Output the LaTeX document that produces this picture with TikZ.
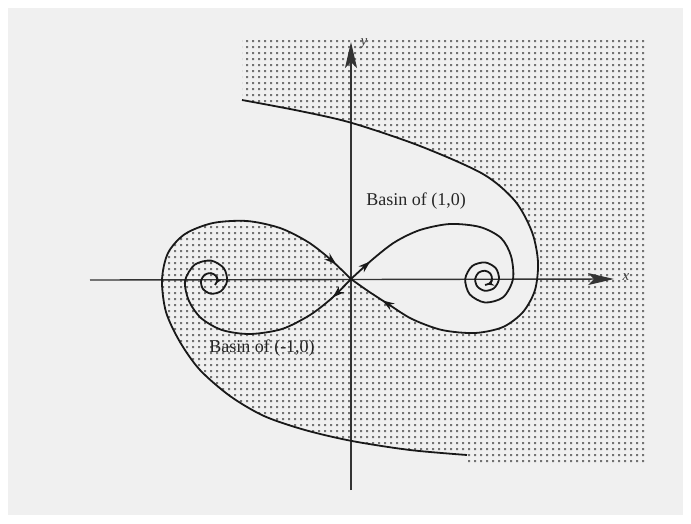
\documentclass[tikz,border=0pt]{standalone}
\usepackage{fontspec}
\setmainfont{Liberation Serif}
\usetikzlibrary{arrows.meta,decorations.markings}
\begin{document}
\begin{tikzpicture}[x=1pt,y=-1pt,
  curve/.style={line width=1.8pt, black!90, line join=round},
  axisline/.style={line width=1.4pt, black!80, -{Stealth[length=26pt,width=12pt,inset=6pt]}},
  fwdmark/.style={postaction={decorate},decoration={markings, mark=at position #1 with {\arrow{Stealth[length=12pt,width=8pt]}}}},
  revmark/.style={postaction={decorate},decoration={markings, mark=at position #1 with {\arrow{Stealth[length=12pt,width=8pt,reversed]}}}},
  spiralmarks/.style={postaction={decorate},decoration={markings,
     mark=at position 26pt with {\arrow{Stealth[length=12pt,width=8pt]}},
     mark=at position 0.995 with {\arrow{Stealth[length=7pt,width=6pt]}}}},
  lbl/.style={font=\fontsize{18}{21}\selectfont, inner sep=0pt, text=black!85},
  axlbl/.style={font=\fontsize{15}{18}\selectfont\itshape, inner sep=0pt, text=black!75},
  dotc/.style={fill=black!55},
]
\useasboundingbox (0,0) rectangle (691,523);
\fill[white] (0,0) rectangle (691,523);
\fill[black!6] (8,8) rectangle (683,515);

% shaded basin of (-1,0)
\begin{scope}
\clip (242,38) -- plot[smooth] coordinates {(242,100) (300,111) (352,123) (420,146) (483,174) (515,201) (532,232) (538,262) (535,290) (523,312) (503,327) (475,333) (442,330) (412,319) (388,304) (368,291) (351,279)}
 -- plot[smooth] coordinates {(351,279) (330,259) (308,242) (280,228) (247,221) (213,223) (185,234) (168,253) (162,280) (166,312) (180,342) (200,370) (230,396) (264,416) (305,430) (352,441) (410,450) (467,455)}
 -- (467,462) -- (648,462) -- (648,38) -- cycle;
\fill[dotc] \foreach \i in {150,156,...,646} {\foreach \j in {40,46,...,460} {(\i,\j) rectangle ++(2.2,2.2)}};
\end{scope}

\coordinate (O) at (351,279);
\coordinate (xl) at (90,280);
\coordinate (xr) at (614,279);
\coordinate (yb) at (351,490);
\coordinate (yt) at (351,42);

% axes
\draw[axisline] (xl) -- (xr);
\draw[axisline] (yb) -- (yt);
\node[axlbl] (xlab) at (626,277) {x};
\node[axlbl] (ylab) at (364,44) {y};

% stable manifold, upper branch
\draw[curve, fwdmark=-38pt] plot[smooth] coordinates {(242,100) (300,111) (352,123) (420,146) (483,174) (515,201) (532,232) (538,262) (535,290) (523,312) (503,327) (475,333) (442,330) (412,319) (388,304) (368,291) (351,279)};
% stable manifold, lower branch
\draw[curve, revmark=33pt] plot[smooth] coordinates {(351,279) (330,259) (308,242) (280,228) (247,221) (213,223) (185,234) (168,253) (162,280) (166,312) (180,342) (200,370) (230,396) (264,416) (305,430) (352,441) (410,450) (467,455)};
% unstable manifold to (1,0)
\draw[curve, spiralmarks] plot[smooth] coordinates {(351,279) (373,259) (395,242) (420,230) (450,224) (480,227) (501,238) (511,256) (513,279) (503.2,297.2) (485,302.5) (469.7,294.3) (465.2,279) (472.1,266.1) (485,262.4) (495.8,268.2) (499,279) (494.1,288.1) (485,290.8) (477.4,286.6) (475.1,279) (478.6,272.6) (485,270.7) (490.4,273.6) (492,279) (489.5,283.5) (485,284.9)};
% unstable manifold to (-1,0)
\draw[curve, spiralmarks] plot[smooth] coordinates {(351,279) (332,298) (310,315) (282,329) (250,334) (222,330) (201,318) (189,301) (185,281) (194.7,264.7) (211,260.6) (223.8,268.2) (227.1,281) (221.1,291.1) (211,293.7) (203,289) (201,281) (204.7,274.7) (211,273.1) (216,276) (217.2,281) (214.9,284.9)};

\node[lbl] (b1) at (416,201) {Basin of (1,0)};
\node[lbl] (b2) at (262,348) {Basin of (-1,0)};
\end{tikzpicture}
\end{document}
